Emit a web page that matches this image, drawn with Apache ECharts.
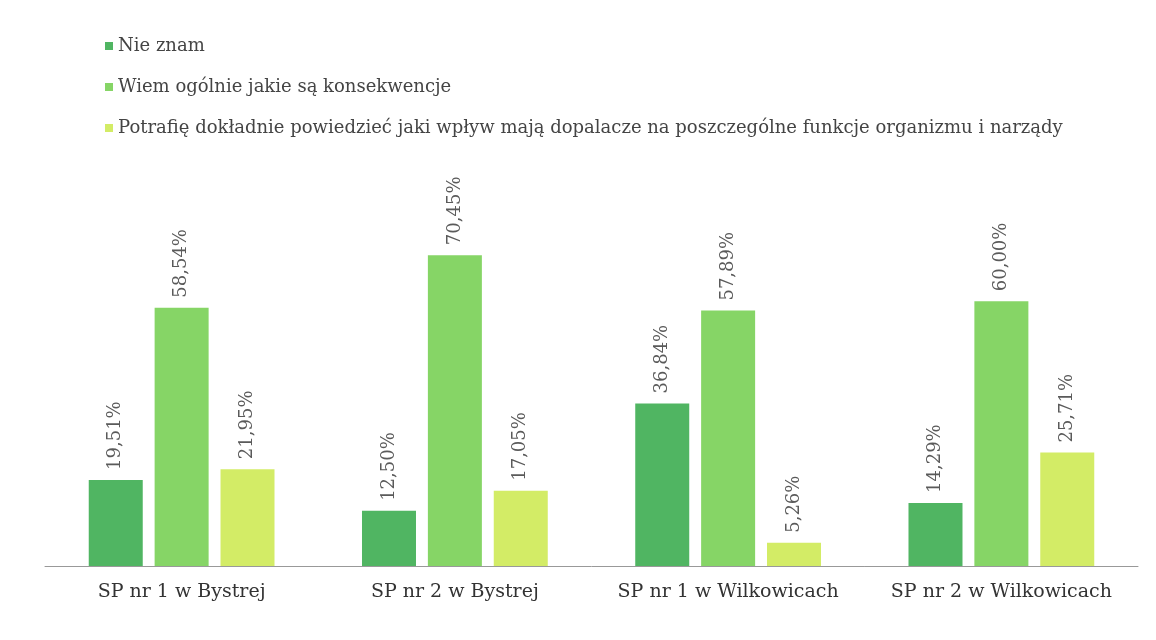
<!DOCTYPE html>
<html>
<head>
<meta charset="utf-8">
<script src="https://cdn.jsdelivr.net/npm/echarts@6/dist/echarts.min.js"></script>
<style>
  html, body { margin: 0; padding: 0; background: #fff; }
  #chart { width: 1156px; height: 640px; }
</style>
</head>
<body>
<div id="chart"></div>
<script>
// schools
const categories = ["SP nr 1 w Bystrej", "SP nr 2 w Bystrej", "SP nr 1 w Wilkowicach", "SP nr 2 w Wilkowicach"]
const seriesNames = [
  "Nie znam",
  "Wiem ogólnie jakie są konsekwencje",
  "Potrafię dokładnie powiedzieć jaki wpływ mają dopalacze na poszczególne funkcje organizmu i narządy"
]
const nieZnam = [19.51, 12.50, 36.84, 14.29]
const wiemOgolnie = [58.54, 70.45, 57.89, 60.00]
const potrafie = [21.95, 17.05, 5.26, 25.71]

const colors = ["#50b562", "#86d566", "#d3ec66"]
const font = "'DejaVu Serif', 'Liberation Serif', serif"

const chart = echarts.init(document.getElementById("chart"))

function makeSeries(name, data, color) {
  return {
    name: name,
    type: "bar",
    data: data,
    barWidth: 54,
    barGap: "22%",
    itemStyle: { color: color },
    label: {
      show: true,
      position: "top",
      rotate: 90,
      align: "left",
      verticalAlign: "middle",
      distance: 10,
      fontFamily: font,
      fontSize: 18,
      color: "#5a5a5a",
      formatter: p => p.value.toFixed(2).replace(".", ",") + "%"
    }
  }
}

const option = {
  backgroundColor: "#fff",
  animation: false,
  color: colors,
  legend: {
    orient: "vertical",
    left: 100,
    top: 32,
    itemWidth: 8,
    itemHeight: 8,
    itemGap: 23,
    icon: "rect",
    textStyle: { fontFamily: font, fontSize: 18, color: "#444" },
    data: seriesNames
  },
  grid: { left: 45, right: 18, top: 213, bottom: 74 },
  xAxis: {
    type: "category",
    data: categories,
    axisTick: { show: false },
    axisLine: { lineStyle: { color: "#999", width: 1 } },
    axisLabel: { interval: 0, fontFamily: font, fontSize: 19, color: "#333", margin: 17 }
  },
  yAxis: {
    type: "value",
    min: 0,
    max: 80,
    show: false
  },
  series: [
    makeSeries(seriesNames[0], nieZnam, colors[0]),
    makeSeries(seriesNames[1], wiemOgolnie, colors[1]),
    makeSeries(seriesNames[2], potrafie, colors[2])
  ]
}
chart.setOption(option)
</script>
</body>
</html>
